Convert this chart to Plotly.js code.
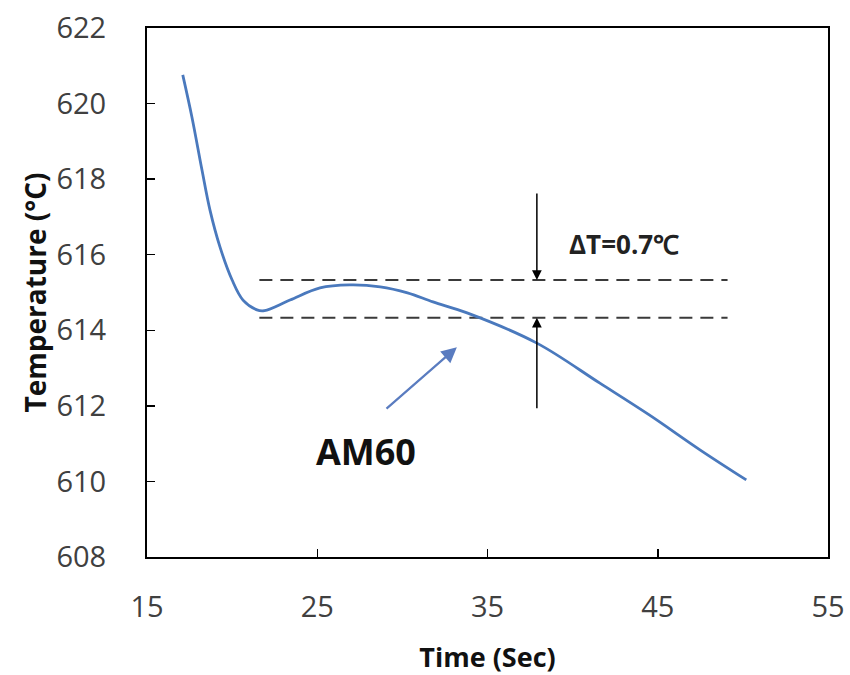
<!DOCTYPE html>
<html>
<head>
<meta charset="utf-8">
<script src="https://cdn.plot.ly/plotly-3.0.1.min.js"></script>
<style>html,body{margin:0;padding:0;background:#fff}#chart{width:850px;height:675px}</style>
</head>
<body>
<div id="chart"></div>
<script>
// Cooling curve of AM60
const timeSec = [17.1, 17.64, 18.23, 18.7, 19.29, 20.0, 20.64, 21.46, 21.9, 23.4, 25.16, 26.9, 28.7, 30.3, 31.8, 33.8, 37.9, 41.6, 44.5, 47.5, 50.2];
const tempC   = [620.76, 619.64, 618.24, 617.18, 616.2, 615.33, 614.8, 614.54, 614.52, 614.8, 615.12, 615.2, 615.15, 614.99, 614.75, 614.46, 613.66, 612.6, 611.76, 610.83, 610.04];

// Reference (dashed) levels
const refX = [21.6, 49.1];
const refHigh = [615.33, 615.33];
const refLow = [614.33, 614.33];

// Delta-T arrows
const dtArrowX = 37.9;
const dtArrowTopFrom = 617.66, dtArrowTopTo = 615.33;
const dtArrowBotFrom = 611.9, dtArrowBotTo = 614.33;
const dtLabel = 'ΔT=0.7℃';
const dtLabelPos = [43.04, 616.28];

// AM60 label and arrow
const seriesLabel = 'AM60';
const seriesLabelPos = [27.86, 610.78];
const seriesArrowFrom = [28.98, 611.89];
const seriesArrowTo = [33.2, 613.55];

const xTicks = [15, 25, 35, 45, 55];
const yTicks = [608, 610, 612, 614, 616, 618, 620, 622];

const FONT = '"Open Sans", Lato, sans-serif';

const traces = [
  {x: refX, y: refHigh, mode: 'lines', line: {color: '#3a3a3a', width: 2, dash: '13px,8px'}, hoverinfo: 'skip'},
  {x: refX, y: refLow, mode: 'lines', line: {color: '#3a3a3a', width: 2, dash: '13px,8px'}, hoverinfo: 'skip'},
  {x: timeSec, y: tempC, mode: 'lines', line: {color: '#4a79bd', width: 2.8, shape: 'spline', smoothing: 1}}
];

const layout = {
  width: 850, height: 675,
  margin: {l: 147, r: 22, t: 28, b: 118},
  paper_bgcolor: '#fff', plot_bgcolor: '#fff',
  showlegend: false,
  font: {family: FONT, color: '#404040'},
  xaxis: {
    range: [15, 55], tickvals: xTicks, ticktext: xTicks.map(String),
    ticks: 'inside', ticklen: 8, tickwidth: 1.5, tickcolor: '#000',
    showline: true, linecolor: '#000', linewidth: 2, mirror: true,
    showgrid: false, zeroline: false,
    tickfont: {size: 29, family: FONT, color: '#404040'},
    ticklabelstandoff: 23,
    title: {text: '<b>Time (Sec)</b>', font: {size: 27, family: FONT, color: '#111'}, standoff: 24}
  },
  yaxis: {
    range: [608, 622], tickvals: yTicks, ticktext: yTicks.map(String),
    ticks: 'inside', ticklen: 8, tickwidth: 1.5, tickcolor: '#000',
    showline: true, linecolor: '#000', linewidth: 2, mirror: true,
    showgrid: false, zeroline: false,
    tickfont: {size: 29, family: FONT, color: '#404040'},
    ticklabelstandoff: 33,
    title: {text: '<b>Temperature (°C)</b>', font: {size: 28, family: FONT, color: '#111'}, standoff: 2}
  },
  annotations: [
    {x: dtArrowX, y: dtArrowTopTo, ax: dtArrowX, ay: dtArrowTopFrom, xref: 'x', yref: 'y', axref: 'x', ayref: 'y',
     showarrow: true, arrowhead: 2, arrowsize: 1.3, arrowwidth: 1.5, arrowcolor: '#000', text: ''},
    {x: dtArrowX, y: dtArrowBotTo, ax: dtArrowX, ay: dtArrowBotFrom, xref: 'x', yref: 'y', axref: 'x', ayref: 'y',
     showarrow: true, arrowhead: 2, arrowsize: 1.3, arrowwidth: 1.5, arrowcolor: '#000', text: ''},
    {x: dtLabelPos[0], y: dtLabelPos[1], xref: 'x', yref: 'y', showarrow: false,
     text: '<b>' + dtLabel + '</b>', font: {size: 26, family: FONT, color: '#222'}},
    {x: seriesArrowTo[0], y: seriesArrowTo[1], ax: seriesArrowFrom[0], ay: seriesArrowFrom[1], xref: 'x', yref: 'y', axref: 'x', ayref: 'y',
     showarrow: true, arrowhead: 2, arrowsize: 1.4, arrowwidth: 2.2, arrowcolor: '#5a7cc0', text: ''},
    {x: seriesLabelPos[0], y: seriesLabelPos[1], xref: 'x', yref: 'y', showarrow: false,
     text: '<b>' + seriesLabel + '</b>', font: {size: 36, family: FONT, color: '#111'}}
  ]
};

Plotly.newPlot('chart', traces, layout, {displayModeBar: false, staticPlot: true});
</script>
</body>
</html>
